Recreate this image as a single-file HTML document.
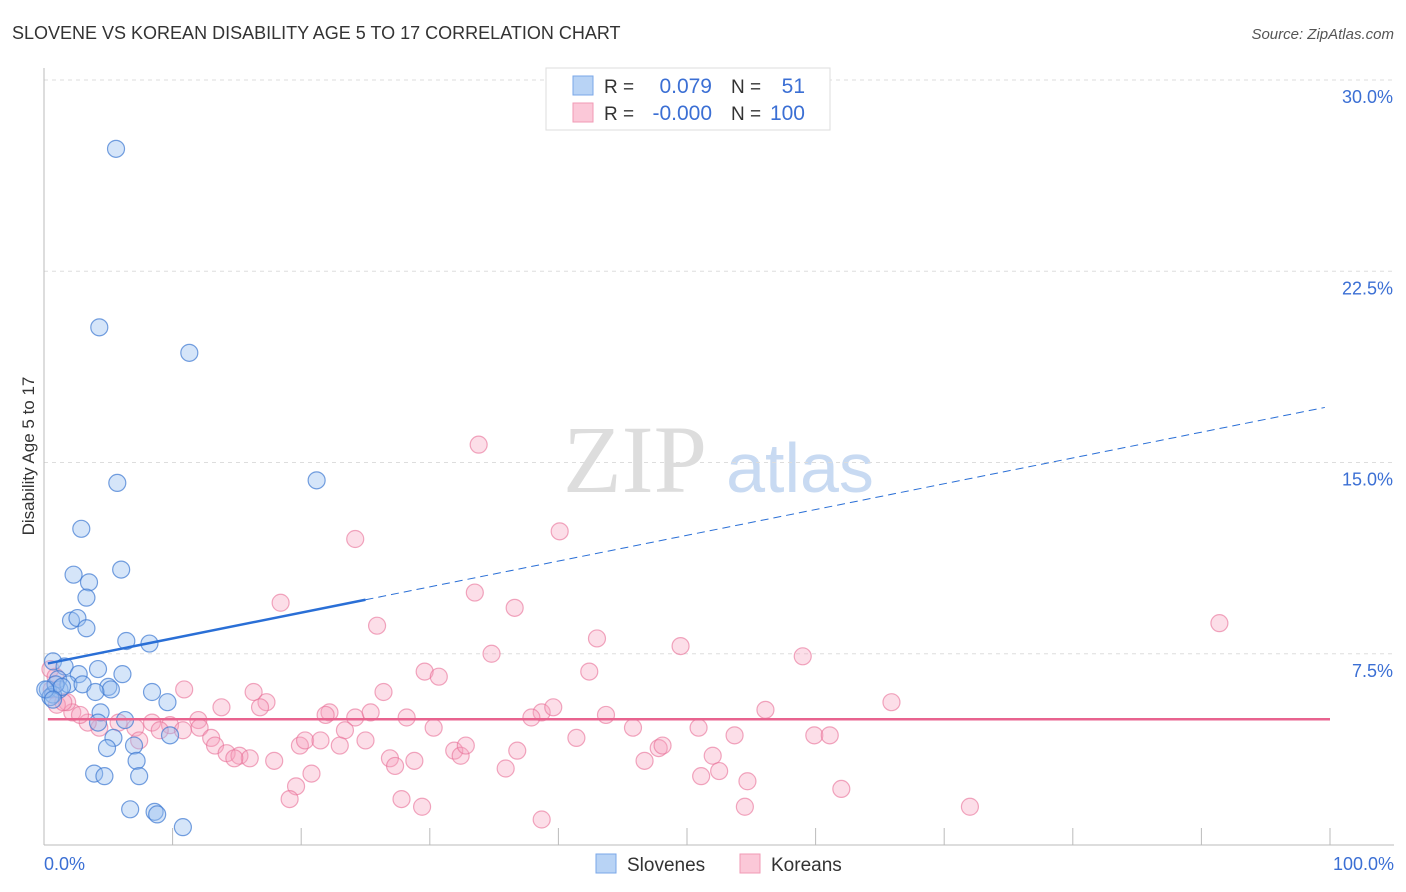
<!DOCTYPE html>
<html><head><meta charset="utf-8"><style>
body{margin:0;background:#fff;font-family:"Liberation Sans",sans-serif}
</style></head><body>
<svg id="chart" width="1406" height="892" xmlns="http://www.w3.org/2000/svg" style="display:block">
<text x="12" y="39" font-size="18" fill="#333">SLOVENE VS KOREAN DISABILITY AGE 5 TO 17 CORRELATION CHART</text>
<text x="1394" y="39" font-size="15" fill="#555" font-style="italic" text-anchor="end">Source: ZipAtlas.com</text>
<text x="635" y="492" font-size="96" fill="#ddd" font-family="Liberation Serif,serif" text-anchor="middle">ZIP</text>
<text x="800" y="492" font-size="70" fill="#c8daf2" text-anchor="middle">atlas</text>
<g id="grid"></g><g id="axes"></g><g id="pts"></g><g id="trend"></g>
<text transform="translate(34,456) rotate(-90)" font-size="17" fill="#333" text-anchor="middle">Disability Age 5 to 17</text>
<text x="44" y="870" font-size="18" fill="#3b6fd4">0.0%</text>
<text x="1394" y="870" font-size="18" fill="#3b6fd4" text-anchor="end">100.0%</text>
<g>
<rect x="546" y="68" width="284" height="62" fill="#fff" stroke="#ddd"/>
<rect x="573" y="76" width="20" height="19" fill="#b8d3f5" stroke="#7aa7e8"/>
<rect x="573" y="103" width="20" height="19" fill="#fbc8d8" stroke="#f09ab5"/>
<text x="604" y="93" font-size="19" fill="#333">R =</text><text x="712" y="93" font-size="21" fill="#3b6fd4" text-anchor="end">0.079</text>
<text x="731" y="93" font-size="19" fill="#333">N =</text><text x="805" y="93" font-size="21" fill="#3b6fd4" text-anchor="end">51</text>
<text x="604" y="120" font-size="19" fill="#333">R =</text><text x="712" y="120" font-size="21" fill="#3b6fd4" text-anchor="end">-0.000</text>
<text x="731" y="120" font-size="19" fill="#333">N =</text><text x="805" y="120" font-size="21" fill="#3b6fd4" text-anchor="end">100</text>
</g>
<g>
<rect x="596" y="854" width="20" height="19" fill="#b8d3f5" stroke="#7aa7e8"/>
<text x="627" y="871" font-size="19" fill="#333">Slovenes</text>
<rect x="740" y="854" width="20" height="19" fill="#fbc8d8" stroke="#f09ab5"/>
<text x="771" y="871" font-size="19" fill="#333">Koreans</text>
</g>
</svg>
<script>
const yTicks=[7.5,15,22.5,30];
const yTickLabels=["7.5%","15.0%","22.5%","30.0%"];
const slovX=[5.6,4.3,11.3,5.7,21.2,2.9,2.3,3.5,6.0,3.3,2.1,2.6,3.3,6.4,8.2,0.7,1.6,4.2,6.1,2.7,1.1,0.3,1.2,1.9,3.0,5.0,5.2,0.7,4.0,8.4,9.6,0.5,4.4,6.3,4.2,5.4,7.0,9.8,4.9,7.2,3.9,4.7,7.4,6.7,8.6,8.8,10.8,0.9,1.4,0.1,0.7];
const slovY=[27.3,20.3,19.3,14.2,14.3,12.4,10.6,10.3,10.8,9.7,8.8,8.9,8.5,8.0,7.9,7.2,7.0,6.9,6.7,6.7,6.5,6.1,6.1,6.3,6.3,6.2,6.1,5.9,6.0,6.0,5.6,5.8,5.2,4.9,4.8,4.2,3.9,4.3,3.8,3.3,2.8,2.7,2.7,1.4,1.3,1.2,0.7,6.3,6.2,6.1,5.7];
const korX=[33.8,24.2,40.1,18.4,33.5,36.6,25.9,91.4,43.0,34.8,49.5,59.0,29.6,30.7,42.4,10.9,16.3,17.3,26.4,16.8,13.8,65.9,56.1,38.7,39.6,43.7,22.2,24.2,21.9,25.4,28.2,37.9,45.8,50.9,30.3,23.4,12.0,9.8,8.4,9.0,10.8,12.1,7.1,5.8,4.3,3.4,2.2,2.8,1.8,1.0,0.6,0.5,0.9,1.5,7.4,13.0,13.3,14.2,15.2,16.0,14.8,19.9,20.3,21.5,23.0,25.0,17.9,20.8,19.6,19.1,26.9,27.3,28.8,27.8,29.4,31.9,32.4,32.8,35.9,36.8,38.7,41.4,46.7,47.8,48.1,51.1,52.0,52.5,53.7,54.7,54.5,59.9,61.1,62.0,72.0];
const korY=[15.7,12.0,12.3,9.5,9.9,9.3,8.6,8.7,8.1,7.5,7.8,7.4,6.8,6.6,6.8,6.1,6.0,5.6,6.0,5.4,5.4,5.6,5.3,5.2,5.4,5.1,5.2,5.0,5.1,5.2,5.0,5.0,4.6,4.6,4.6,4.5,4.9,4.7,4.8,4.5,4.5,4.6,4.6,4.8,4.6,4.8,5.2,5.1,5.6,5.5,6.1,6.9,6.6,5.6,4.1,4.2,3.9,3.6,3.5,3.4,3.4,3.9,4.1,4.1,3.9,4.1,3.3,2.8,2.3,1.8,3.4,3.1,3.3,1.8,1.5,3.7,3.5,3.9,3.0,3.7,1.0,4.2,3.3,3.8,3.9,2.7,3.5,2.9,4.3,2.5,1.5,4.3,4.3,2.2,1.5];
const slovTrend=[7.09,17.2];
const korTrend=[4.93,4.93];
const X=v=>44+v*12.86, Y=v=>845-v*25.5;
const NS="http://www.w3.org/2000/svg";
function mk(tag,attrs,parent){const e=document.createElementNS(NS,tag);for(const k in attrs)e.setAttribute(k,attrs[k]);document.getElementById(parent).appendChild(e);return e;}
yTicks.forEach((t,i)=>{
 const g=mk('line',{x1:44,x2:1394,y1:Y(t),y2:Y(t),stroke:'#ddd','stroke-dasharray':'4,4'},'grid');
 
 
 const tx=mk('text',{x:1393,y:Y(t)+23,'font-size':18,fill:'#3b6fd4','text-anchor':'end'},'grid');
 tx.textContent=yTickLabels[i];
 
 
});
const ax=mk('line',{x1:44,x2:44,y1:68,y2:845,stroke:'#bbb'},'axes');


const bx=mk('line',{x1:44,x2:1394,y1:845,y2:845,stroke:'#bbb'},'axes');


for(let i=0;i<=10;i++){const t=mk('line',{x1:X(i*10),x2:X(i*10),y1:828,y2:845,stroke:'#bbb'},'axes');
 
 }
korX.forEach((x,i)=>{const c=mk('circle',{cx:X(x),cy:Y(korY[i]),r:8.5,fill:'rgba(247,160,188,0.35)',stroke:'rgba(232,110,150,0.6)','stroke-width':1.2},'pts');
 
 });
slovX.forEach((x,i)=>{const c=mk('circle',{cx:X(x),cy:Y(slovY[i]),r:8.5,fill:'rgba(150,190,240,0.4)',stroke:'rgba(60,120,210,0.7)','stroke-width':1.2},'pts');
 
 });
const sy=x=>slovTrend[0]+(slovTrend[1]-slovTrend[0])*x/100;
const l1=mk('line',{x1:X(0.3),y1:Y(sy(0.3)),x2:X(25),y2:Y(sy(25)),stroke:'#2a6fd6','stroke-width':2.5},'trend');


const l2=mk('line',{x1:X(25),y1:Y(sy(25)),x2:X(99.6),y2:Y(sy(99.6)),stroke:'#2a6fd6','stroke-width':1,'stroke-dasharray':'8,5'},'trend');


const l3=mk('line',{x1:X(0.3),y1:Y(korTrend[0]),x2:X(100),y2:Y(korTrend[1]),stroke:'#e8638f','stroke-width':2.5},'trend');


</script>
</body></html>
